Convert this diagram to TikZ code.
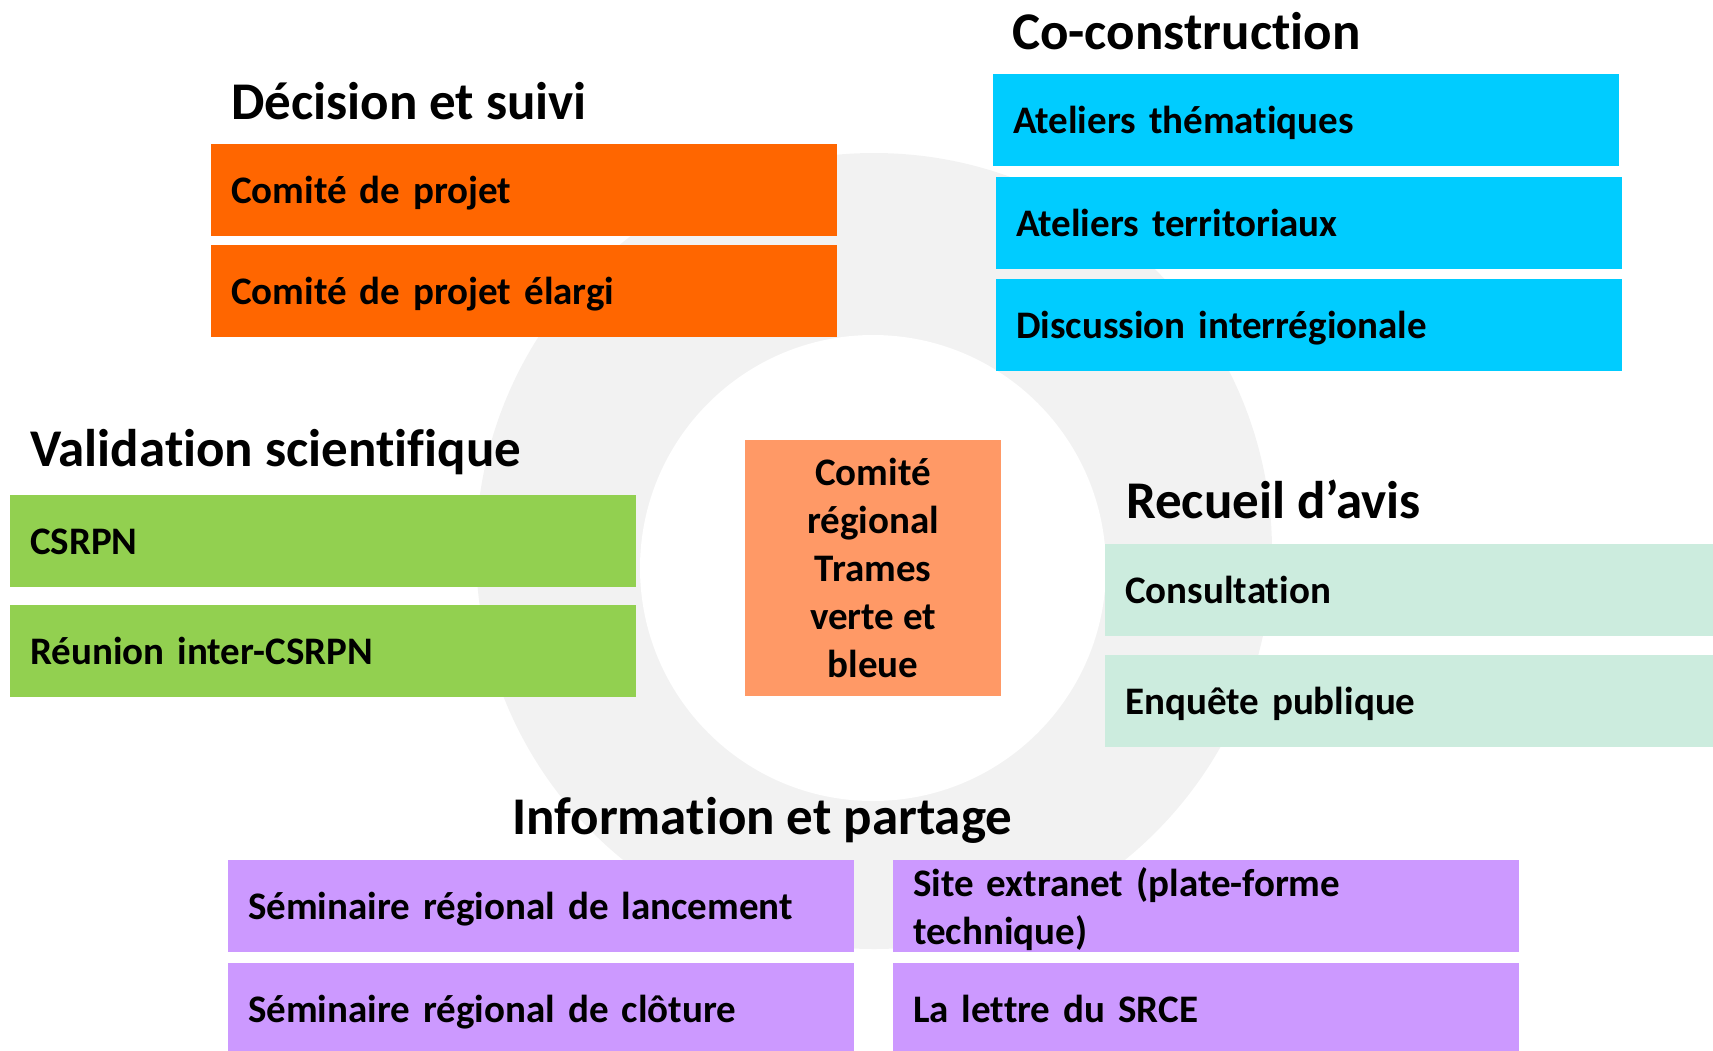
\documentclass[tikz,border=0pt]{standalone}
\usepackage{fontspec}
\setmainfont{Carlito}[RawFeature={-liga;-clig}]
\usetikzlibrary{positioning}
\definecolor{decorange}{RGB}{255,102,0}
\definecolor{coblue}{RGB}{0,204,255}
\definecolor{valgreen}{RGB}{146,208,80}
\definecolor{avismint}{RGB}{204,236,222}
\definecolor{infopurple}{RGB}{204,153,255}
\definecolor{crsalmon}{RGB}{255,153,102}
\definecolor{ringgray}{RGB}{242,242,242}

\begin{document}
\begin{tikzpicture}[x=1pt, y=-1pt,
    heading/.style={anchor=base west, inner sep=0pt, font=\fontsize{53}{64}\selectfont\bfseries},
    itembox/.style={anchor=north west, inner xsep=20pt, inner ysep=0pt, text width=586pt,
      minimum height=92pt, align=left, text height=27pt, text depth=0pt,
      font=\fontsize{39}{48}\selectfont\bfseries}]
        \clip (0,0) rectangle (1713,1050);

        % Background ring
        \fill[ringgray] (874,551) circle (398);
        \fill[white] (873,568) circle (233);

        % Centre
        \node[fill=crsalmon, minimum width=256pt, minimum height=256pt, align=center,
          font=\fontsize{39}{48}\selectfont\bfseries] (crtvb) at (873,568)
          {Comité\\régional\\Trames\\verte et\\bleue};

        % Decision et suivi
        \node[heading] (decision) at (231,119) {Décision et suivi};
        \node[itembox, fill=decorange] (cp) at (211,144) {Comité de projet};
        \node[itembox, fill=decorange, below=8pt of cp] (cpe) {Comité de projet élargi};

        % Co-construction
        \node[heading] (cocons) at (1012,49) {Co-construction};
        \node[itembox, fill=coblue] (athem) at (993,74) {Ateliers thématiques};
        \node[itembox, fill=coblue, below=10pt of athem, xshift=3pt] (aterr) {Ateliers territoriaux};
        \node[itembox, fill=coblue, below=10pt of aterr] (disc) {Discussion interrégionale};

        % Validation scientifique
        \node[heading] (valid) at (30,466) {Validation scientifique};
        \node[itembox, fill=valgreen] (csrpn) at (10,495) {CSRPN};
        \node[itembox, fill=valgreen, below=17pt of csrpn] (inter) {Réunion inter-CSRPN};

        % Recueil d'avis
        \node[heading] (recueil) at (1126,518) {Recueil d’avis};
        \node[itembox, fill=avismint] (consult) at (1105,544) {Consultation};
        \node[itembox, fill=avismint, below=18pt of consult] (enquete) {Enquête publique};

        % Information et partage
        \node[heading] (info) at (512,834) {Information et partage};
        \node[itembox, fill=infopurple] (lanc) at (228,860) {Séminaire régional de lancement};
        \node[itembox, fill=infopurple, below=10pt of lanc] (clot) {Séminaire régional de clôture};
        \node[itembox, fill=infopurple, text depth=47pt] (site) at (893,860) {Site extranet (plate-forme\\technique)};
        \node[itembox, fill=infopurple] (lettre) at (893,963) {La lettre du SRCE};
      \end{tikzpicture}
\end{document}
